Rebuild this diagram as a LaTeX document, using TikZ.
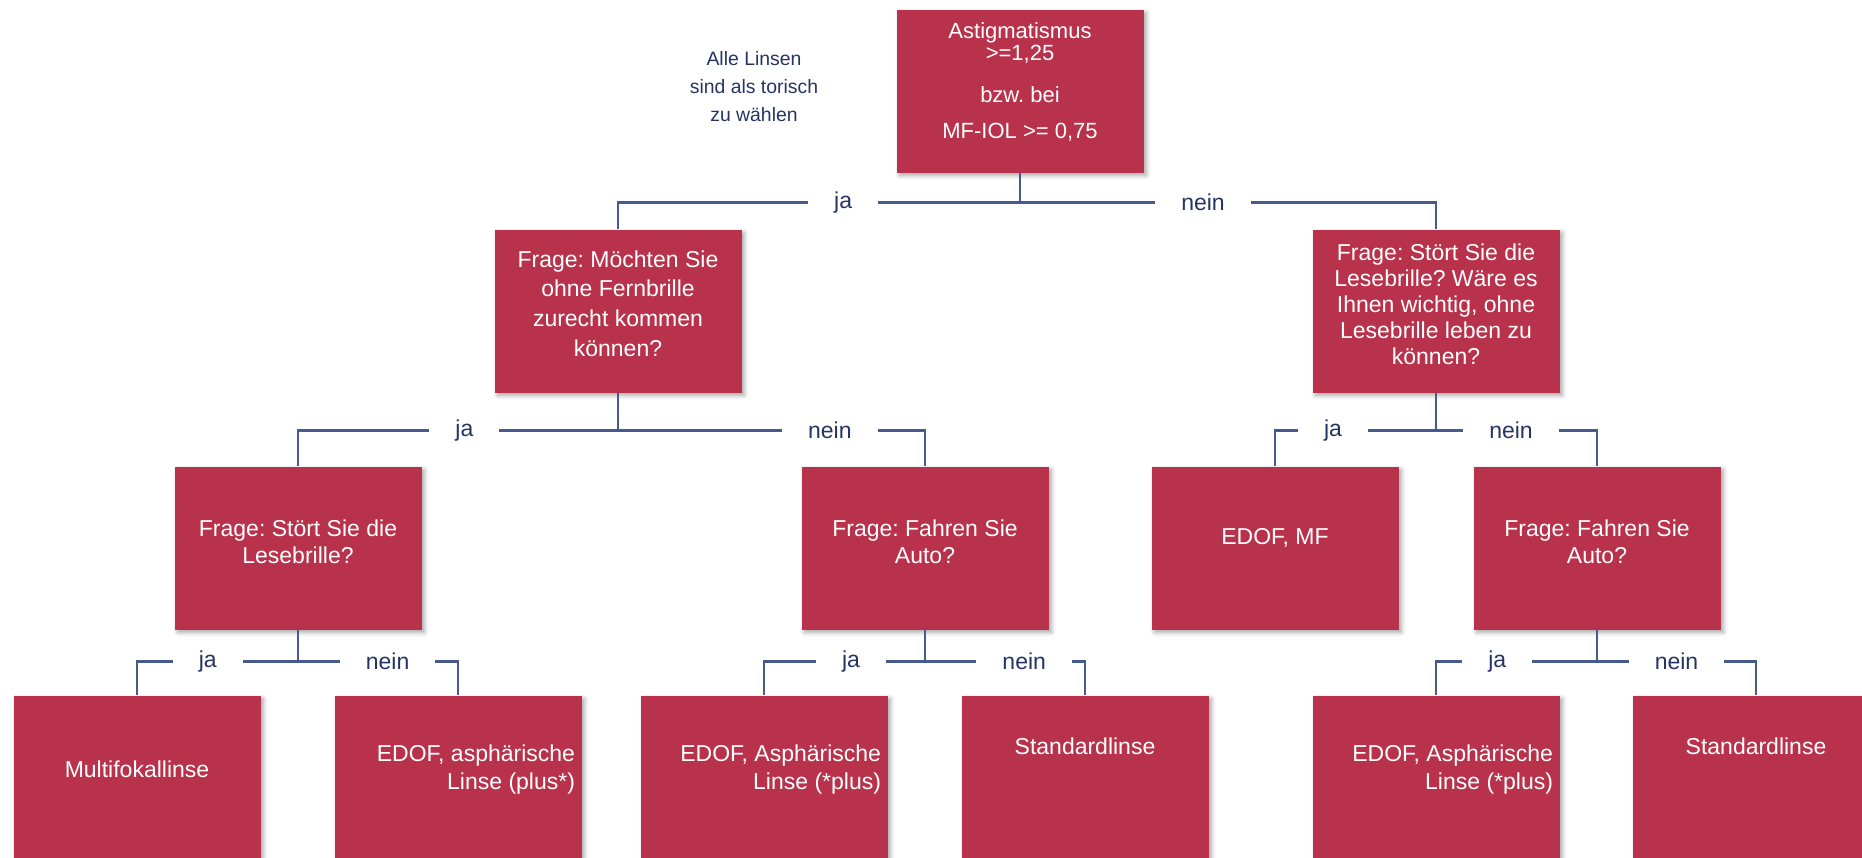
\documentclass[tikz,border=0pt]{standalone}
\usepackage{fontspec}
\setmainfont{Liberation Sans}
\frenchspacing
\usetikzlibrary{shadows.blur}
\definecolor{boxred}{RGB}{185,50,76}
\definecolor{linkblue}{RGB}{70,90,142}
\definecolor{lblnavy}{RGB}{38,52,100}
\tikzset{
  box/.style={fill=boxred, minimum width=123.5pt, minimum height=81.5pt, inner sep=0pt,
    blur shadow={shadow xshift=1.5pt, shadow yshift=-1.5pt, shadow blur steps=6, shadow opacity=35}},
  txt/.style={text=white, align=center, inner sep=0pt, font=\fontsize{11.5}{13.5}\selectfont},
  link/.style={draw=linkblue, line width=1.3pt},
  lbl/.style={fill=white, text=lblnavy, inner xsep=13pt, inner ysep=2pt, font=\fontsize{11.5}{14}\selectfont},
}
\begin{document}
\begin{tikzpicture}[x=0.5pt,y=-0.5pt]
  \useasboundingbox (0,0) rectangle (1862,857);
  \clip (0,0) rectangle (1862,857);
  % boxes
  \node[box] (top) at (1020,91) {};
  \node[box] (l1) at (618,311) {};
  \node[box] (r1) at (1436,311) {};
  \node[box] (ll) at (298,548) {};
  \node[box] (lr) at (925,548) {};
  \node[box] (rl) at (1275,548) {};
  \node[box] (rr) at (1597,548) {};
  \node[box] (lll) at (137,777) {};
  \node[box] (llr) at (458,777) {};
  \node[box] (lrl) at (764,777) {};
  \node[box] (lrr) at (1085,777) {};
  \node[box] (rrl) at (1436,777) {};
  \node[box] (rrr) at (1756,777) {};
  % texts
  \node[txt, font=\fontsize{11}{11}\selectfont] (top-t) at ([yshift=4.5pt]top.center)
    {Astigmatismus\\ >=1,25\\[10pt] bzw. bei\\[7pt] MF-IOL >= 0,75};
  \node[text=lblnavy, align=center, inner sep=0pt, font=\fontsize{9.7}{14}\selectfont] (note) at (754,87)
    {Alle Linsen\\ sind als torisch\\ zu wählen};
  \node[txt, font=\fontsize{11.5}{14.8}\selectfont] (l1-t) at ([yshift=3.75pt]l1.center)
    {Frage: Möchten Sie\\ ohne Fernbrille\\ zurecht kommen\\ können?};
  \node[txt, font=\fontsize{11.5}{13}\selectfont] (r1-t) at ([yshift=3.5pt]r1.center)
    {Frage: Stört Sie die\\ Lesebrille? Wäre es\\ Ihnen wichtig, ohne\\ Lesebrille leben zu\\ können?};
  \node[txt] (ll-t) at ([yshift=3.25pt]ll.center) {Frage: Stört Sie die\\ Lesebrille?};
  \node[txt] (lr-t) at ([yshift=3.25pt]lr.center) {Frage: Fahren Sie\\ Auto?};
  \node[txt] (rl-t) at ([yshift=5pt]rl.center) {EDOF, MF};
  \node[txt] (rr-t) at ([yshift=3.25pt]rr.center) {Frage: Fahren Sie\\ Auto?};
  \node[txt] (lll-t) at ([yshift=3.75pt]lll.center) {Multifokallinse};
  \node[txt, align=right, anchor=east, font=\fontsize{11.5}{14}\selectfont] (llr-t) at ([xshift=-3.25pt,yshift=3.5pt]llr.east)
    {EDOF, asphärische\\ Linse (plus*)};
  \node[txt, align=right, anchor=east, font=\fontsize{11.5}{14}\selectfont] (lrl-t) at ([xshift=-3.25pt,yshift=3.5pt]lrl.east)
    {EDOF, Asphärische\\ Linse (*plus)};
  \node[txt] (lrr-t) at ([yshift=15.5pt]lrr.center) {Standardlinse};
  \node[txt, align=right, anchor=east, font=\fontsize{11.5}{14}\selectfont] (rrl-t) at ([xshift=-3.25pt,yshift=3.5pt]rrl.east)
    {EDOF, Asphärische\\ Linse (*plus)};
  \node[txt] (rrr-t) at ([yshift=15.5pt]rrr.center) {Standardlinse};
  % connectors
  \draw[link] (top.south) -- ++(0,29.5) coordinate (top-m) -| node[lbl,pos=.22] (top-ja) {ja} (l1.north);
  \draw[link] (top-m) -| node[lbl,pos=.22] (top-nein) {nein} (r1.north);
  \draw[link] (l1.south) -- ++(0,37.5) coordinate (l1-m) -| node[lbl,pos=.24] (l1-ja) {ja} (ll.north);
  \draw[link] (l1-m) -| node[lbl,pos=.345] (l1-nein) {nein} (lr.north);
  \draw[link] (r1.south) -- ++(0,37.5) coordinate (r1-m) -| node[lbl,pos=.32] (r1-ja) {ja} (rl.north);
  \draw[link] (r1-m) -| node[lbl,pos=.233] (r1-nein) {nein} (rr.north);
  \draw[link] (ll.south) -- ++(0,31.5) coordinate (ll-m) -| node[lbl,pos=.28] (ll-ja) {ja} (lll.north);
  \draw[link] (ll-m) -| node[lbl,pos=.28] (ll-nein) {nein} (llr.north);
  \draw[link] (lr.south) -- ++(0,31.5) coordinate (lr-m) -| node[lbl,pos=.23] (lr-ja) {ja} (lrl.north);
  \draw[link] (lr-m) -| node[lbl,pos=.31] (lr-nein) {nein} (lrr.north);
  \draw[link] (rr.south) -- ++(0,31.5) coordinate (rr-m) -| node[lbl,pos=.31] (rr-ja) {ja} (rrl.north);
  \draw[link] (rr-m) -| node[lbl,pos=.25] (rr-nein) {nein} (rrr.north);
\end{tikzpicture}
\end{document}
